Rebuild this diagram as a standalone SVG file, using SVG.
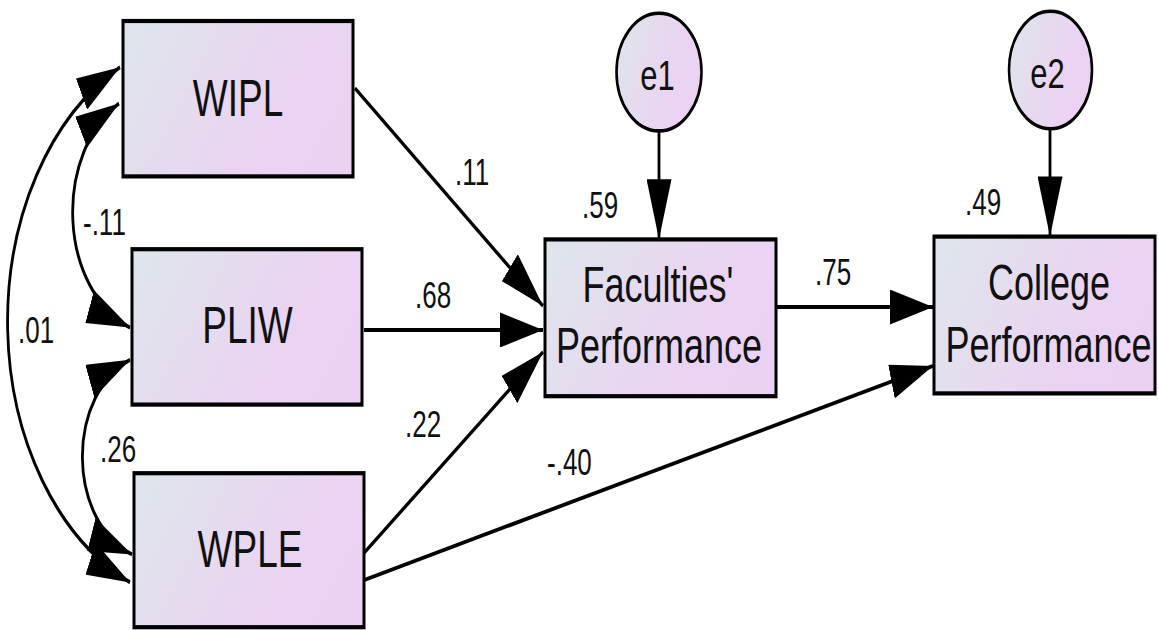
<svg xmlns="http://www.w3.org/2000/svg" width="1159" height="630" viewBox="0 0 1159 630">
<style>
.box{fill:url(#g);stroke:#000;stroke-width:3}
.ell{fill:url(#g);stroke:#000;stroke-width:2.6}
.t{font-family:"Liberation Sans",Arial,sans-serif;fill:#111}
.big{font-size:37px;text-anchor:middle}
.mid{font-size:36px;text-anchor:middle}
.err{font-size:31px;text-anchor:middle}
.num{font-size:26px}
.edge{fill:none;stroke:#000;stroke-width:2.8}
.one{marker-end:url(#ah)}
.two{marker-start:url(#ah);marker-end:url(#ah)}
</style>
<defs>
<linearGradient id="g" x1="0" y1="0" x2="1" y2="0.35">
<stop offset="0" stop-color="#dee6ea"/>
<stop offset="0.75" stop-color="#ead4f2"/>
<stop offset="1" stop-color="#ebd2f3"/>
</linearGradient>
<marker id="ah" viewBox="0 0 43 25" refX="43" refY="12.5" markerWidth="43" markerHeight="25" markerUnits="userSpaceOnUse" orient="auto-start-reverse">
<path d="M0,0 L43,12.5 L0,25 Z" fill="#000"/>
</marker>
</defs>
<rect width="1159" height="630" fill="#fff"/>
<g transform="scale(1,1.4)">
<g id="connectors">
<path class="edge one" d="M355,63 L543,218.6"/>
<path class="edge one" d="M364,235.7 L543,235.7"/>
<path class="edge one" d="M364,395 L543,251.4"/>
<path class="edge one" d="M364,414.3 L933,261.4"/>
<path class="edge one" d="M776,219.3 L933,219.3"/>
<path class="edge one" d="M659,94 L659,171"/>
<path class="edge one" d="M1050,92 L1050,169"/>
<path class="edge two" d="M119,74 A88,88 0 0,0 130,234"/>
<path class="edge two" d="M130,257 A74,74 0 0,0 132,396"/>
<path class="edge two" d="M120,48 A203,203 0 0,0 130,416"/>
</g>
<g id="edge-labels">
<text class="t num" x="455" y="132.1">.11</text>
<text class="t num" x="415" y="220">.68</text>
<text class="t num" x="405" y="312.1">.22</text>
<text class="t num" x="547" y="339.3">-.40</text>
<text class="t num" x="815" y="203.6">.75</text>
<text class="t num" x="582" y="155.7">.59</text>
<text class="t num" x="965" y="153.6">.49</text>
<text class="t num" x="83" y="167.9">-.11</text>
<text class="t num" x="18" y="245">.01</text>
<text class="t num" x="100" y="330">.26</text>
</g>
<g id="WIPL">
<rect class="box" x="123" y="15" width="230" height="111"/>
<text class="t big" x="238" y="82.9">WIPL</text>
</g>
<g id="PLIW">
<rect class="box" x="132" y="178" width="230" height="111"/>
<text class="t big" x="247.5" y="245">PLIW</text>
</g>
<g id="WPLE">
<rect class="box" x="134" y="338" width="230" height="110"/>
<text class="t big" x="250" y="405">WPLE</text>
</g>
<g id="FacultiesPerformance">
<rect class="box" x="545" y="171" width="231" height="112"/>
<text class="t mid" x="658" y="215.7">Faculties'</text>
<text class="t mid" x="659" y="259.3">Performance</text>
</g>
<g id="CollegePerformance">
<rect class="box" x="934" y="169" width="221" height="112"/>
<text class="t mid" x="1049" y="214.3">College</text>
<text class="t mid" x="1048.5" y="258.6">Performance</text>
</g>
<g id="e1">
<ellipse class="ell" cx="659" cy="51.5" rx="42.5" ry="42"/>
<text class="t err" x="657.5" y="64.3">e1</text>
</g>
<g id="e2">
<ellipse class="ell" cx="1050.5" cy="50" rx="41.5" ry="42"/>
<text class="t err" x="1047.5" y="62.9">e2</text>
</g>
</g>
</svg>
